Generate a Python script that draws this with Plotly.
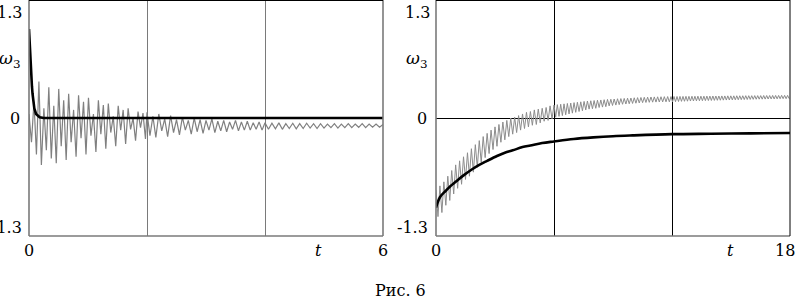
import numpy as np
import plotly.graph_objects as go

# ---------------- data ----------------
# Left panel, black curve
left_black_t = [0, 0.01, 0.02, 0.03, 0.04, 0.05, 0.06, 0.075, 0.09, 0.12, 0.15, 0.18, 0.25, 1, 2, 3, 4, 5, 6]
left_black_v = [1.1, 0.92, 0.75, 0.6, 0.5, 0.39, 0.3, 0.2, 0.12, 0.05, 0.025, 0.01, 0, 0, 0, 0, 0, 0, 0]

# Left panel, grey curve: extrema, three stretches with their own sampling step
left_gray_a_step = 0.042
left_gray_a = [0.05, -0.30, 0.20, -0.45, 0.45, -0.58, 0.12, -0.40, 0.38, -0.50,
               0.15, -0.56, 0.36, -0.35, 0.22, -0.52, 0.30, -0.30, 0.10, -0.48,
               0.28, -0.25, 0.20, -0.45, 0.25, -0.22, 0.05, -0.42, 0.22, -0.20,
               0.16, -0.38, 0.18, -0.18, 0.02, -0.35, 0.15, -0.15, 0.10, -0.32,
               0.12, -0.14, 0.0, -0.28, 0.08, -0.12, 0.06, -0.26]
left_gray_b_start, left_gray_b_step = 2.0, 0.05
left_gray_b = [0.07, -0.22, 0.02, -0.24, 0.05, -0.16, -0.01, -0.23, 0.03, -0.18,
               -0.02, -0.21, 0.01, -0.15, -0.03, -0.20, 0.0, -0.17, -0.02, -0.19,
               -0.03, -0.15, -0.01, -0.18, -0.04, -0.16, -0.03, -0.17, -0.05, -0.14,
               -0.03, -0.16, -0.05, -0.15, -0.04, -0.15, -0.06, -0.14, -0.05, -0.15]
left_gray_c_start, left_gray_c_step = 4.0, 2.0 / 34
left_gray_c = [-0.06, -0.14, -0.065, -0.135, -0.06, -0.14, -0.07, -0.13, -0.065, -0.135,
               -0.07, -0.13, -0.065, -0.125, -0.07, -0.13, -0.07, -0.125, -0.075, -0.12,
               -0.07, -0.125, -0.075, -0.12, -0.07, -0.12, -0.075, -0.115, -0.07, -0.12,
               -0.075, -0.115, -0.075, -0.115, -0.08]

# Right panel, black curve
right_black_t = [0, 0.2, 0.5, 0.7, 1.0, 1.4, 1.8, 2.2, 2.6, 3.1, 3.5, 3.9, 4.4, 4.8, 5.4, 6,
                 7, 8, 9, 10, 12, 14, 16, 18]
right_black_v = [-1.11, -0.98, -0.9, -0.85, -0.79, -0.71, -0.64, -0.58, -0.53, -0.47, -0.43,
                 -0.40, -0.36, -0.34, -0.31, -0.29, -0.26, -0.24, -0.225, -0.215, -0.20,
                 -0.195, -0.19, -0.185]

# Right panel, grey curve
right_gray_1_step = 0.1
right_gray_1 = [-0.89, -1.22, -0.84, -1.17, -0.79, -1.08, -0.72, -1.02, -0.65, -0.94,
                -0.58, -0.87, -0.53, -0.82, -0.48, -0.76, -0.43, -0.72, -0.38, -0.67,
                -0.33, -0.61, -0.28, -0.55, -0.23, -0.49, -0.19, -0.44, -0.15, -0.39,
                -0.11, -0.35, -0.08, -0.30, -0.05, -0.27, -0.03, -0.23, 0.0, -0.20,
                0.01, -0.18, 0.03, -0.15, 0.05, -0.13, 0.07, -0.11, 0.08, -0.09,
                0.10, -0.08, 0.11, -0.06, 0.12, -0.04, 0.13, -0.03, 0.15, -0.01]
right_gray_2_start, right_gray_2_step = 6.0, 0.085
right_gray_2_hi = [0.16, 0.165, 0.17, 0.175, 0.18, 0.185, 0.19, 0.195, 0.20, 0.205, 0.21, 0.213,
                   0.216, 0.22, 0.223, 0.226, 0.23, 0.232, 0.235, 0.238, 0.24, 0.242, 0.245,
                   0.247, 0.25, 0.252, 0.254, 0.256, 0.258, 0.26, 0.261, 0.262, 0.263, 0.264, 0.265]
right_gray_2_lo = [0.01, 0.02, 0.03, 0.04, 0.05, 0.06, 0.07, 0.08, 0.09, 0.10, 0.11, 0.115,
                   0.12, 0.13, 0.135, 0.14, 0.15, 0.155, 0.16, 0.165, 0.17, 0.173, 0.176,
                   0.18, 0.183, 0.186, 0.19, 0.192, 0.194, 0.196, 0.197, 0.198, 0.199, 0.20, 0.20]
right_gray_3_start, right_gray_3_step = 11.95, 0.076
right_gray_3_hi = [0.265, 0.266, 0.266, 0.267, 0.267, 0.268, 0.268, 0.269, 0.269, 0.27, 0.27,
                   0.27, 0.271, 0.271, 0.272, 0.272, 0.272, 0.273, 0.273, 0.274, 0.274, 0.274,
                   0.275, 0.275, 0.275, 0.276, 0.276, 0.276, 0.277, 0.277, 0.277, 0.278, 0.278,
                   0.278, 0.279, 0.279, 0.279, 0.28, 0.28, 0.28]
right_gray_3_lo = [0.20, 0.202, 0.204, 0.206, 0.207, 0.208, 0.21, 0.211, 0.212, 0.213, 0.214,
                   0.215, 0.216, 0.217, 0.218, 0.219, 0.22, 0.221, 0.222, 0.223, 0.224, 0.225,
                   0.226, 0.227, 0.228, 0.229, 0.23, 0.231, 0.232, 0.233, 0.233, 0.234, 0.235,
                   0.236, 0.236, 0.237, 0.238, 0.239, 0.239, 0.24]

y_tick_labels = ["1.3", "0", "-1.3"]
y_tick_values = [1.3, 0, -1.36]
left_x_labels = ["0", "6"]
right_x_labels = ["0", "18"]
caption = "Рис. 6"

# ---------------- assemble series ----------------
def seq(start, step, vals):
    return [start + i * step for i in range(len(vals))]

def interleave(hi, lo):
    out = []
    for h, l in zip(hi, lo):
        out += [h, l]
    return out

lg_t = seq(0, left_gray_a_step, left_gray_a) + seq(left_gray_b_start, left_gray_b_step, left_gray_b) \
    + seq(left_gray_c_start, left_gray_c_step, left_gray_c)
lg_v = left_gray_a + left_gray_b + left_gray_c

r2 = interleave(right_gray_2_hi, right_gray_2_lo)
r3 = interleave(right_gray_3_hi, right_gray_3_lo)
rg_t = seq(0, right_gray_1_step, right_gray_1) + seq(right_gray_2_start, right_gray_2_step, r2) \
    + seq(right_gray_3_start, right_gray_3_step, r3)
rg_t = [min(t, 18) for t in rg_t]
rg_v = right_gray_1 + r2 + r3

# ---------------- figure ----------------
W, H = 800, 304
ML, MR, MT, MB = 29, 10, 0, 68
PW = W - ML - MR
PH = H - MT - MB
FONT = "DejaVu Serif"
GREY_AX = "#7a7a7a"

fig = go.Figure()
fig.add_trace(go.Scatter(x=lg_t, y=lg_v, mode="lines", line=dict(color="#808080", width=1.2),
                         xaxis="x", yaxis="y", hoverinfo="skip"))
fig.add_trace(go.Scatter(x=left_black_t, y=left_black_v, mode="lines",
                         line=dict(color="black", width=2.6), xaxis="x", yaxis="y"))
fig.add_trace(go.Scatter(x=rg_t, y=rg_v, mode="lines", line=dict(color="#8c8c8c", width=1.0),
                         xaxis="x2", yaxis="y2", hoverinfo="skip"))
fig.add_trace(go.Scatter(x=right_black_t, y=right_black_v, mode="lines", line_shape="spline",
                         line=dict(color="black", width=2.6), xaxis="x2", yaxis="y2"))

dom1 = [0, 354 / PW]
dom2 = [(436 - ML) / PW, 1]
yr = [-1.46, 1.46]
common_y = dict(range=yr, showgrid=False, showticklabels=False, ticks="", showline=False, fixedrange=True)

fig.update_layout(
    width=W, height=H, margin=dict(l=ML, r=MR, t=MT, b=MB, autoexpand=False),
    paper_bgcolor="white", plot_bgcolor="white", showlegend=False,
    font=dict(family=FONT),
    xaxis=dict(domain=dom1, range=[0, 6], tickvals=[2, 4], showgrid=True, gridcolor=GREY_AX,
               gridwidth=1.4, showticklabels=False, ticks="", zeroline=False, showline=False),
    yaxis=dict(domain=[0, 1], zeroline=False, **common_y),
    xaxis2=dict(domain=dom2, range=[0, 18], tickvals=[6, 12], showgrid=True, gridcolor="black",
                gridwidth=1, showticklabels=False, ticks="", zeroline=False, showline=False,
                anchor="y2"),
    yaxis2=dict(domain=[0, 1], anchor="x2", zeroline=True, zerolinecolor="black",
                zerolinewidth=1, **common_y),
)

# frames
def frame(xr, yr_, left, bottom, right, top):
    s = []
    s.append(dict(type="line", xref=xr + " domain", yref=yr_ + " domain", x0=0, x1=0, y0=0, y1=1,
                  line=dict(color=left[0], width=left[1]), layer="above"))
    s.append(dict(type="line", xref=xr + " domain", yref=yr_ + " domain", x0=0, x1=1, y0=0, y1=0,
                  line=dict(color=bottom[0], width=bottom[1]), layer="above"))
    s.append(dict(type="line", xref=xr + " domain", yref=yr_ + " domain", x0=1, x1=1, y0=0, y1=1,
                  line=dict(color=right[0], width=right[1]), layer="above"))
    s.append(dict(type="line", xref=xr + " domain", yref=yr_ + " domain", x0=0, x1=1, y0=1, y1=1,
                  line=dict(color=top[0], width=top[1]), layer="above"))
    return s

shapes = frame("x", "y", (GREY_AX, 1.6), (GREY_AX, 1.6), (GREY_AX, 1.6), ("black", 2))
shapes += frame("x2", "y2", (GREY_AX, 1.6), (GREY_AX, 1.6), ("black", 1), ("black", 2))
fig.update_layout(shapes=shapes)

ann = []
f = dict(family=FONT, size=16, color="black")
for xa, ya, shifts in (("x", "y", (-5, -7, -5)), ("x2", "y2", (-4, -7, -6))):
    for lab, val, sh in zip(y_tick_labels, y_tick_values, shifts):
        ann.append(dict(text=lab, x=0, y=val, xref=xa, yref=ya, xanchor="right", yanchor="middle",
                        xshift=sh, showarrow=False, font=f))
    ann.append(dict(text="<i>ω</i><sub>3</sub>", x=0, y=0.72, xref=xa, yref=ya, xanchor="right",
                    yanchor="middle", xshift=-7, showarrow=False, font=dict(family=FONT, size=17, color="black")))

yb = (PH - 250) / PH   # paper y of the bottom labels (pixel row 250)
for lab, xv in zip(left_x_labels, [0, 6]):
    ann.append(dict(text=lab, x=xv, y=yb, xref="x", yref="paper", xanchor="center", yanchor="middle",
                    showarrow=False, font=f))
ann.append(dict(text="<i>t</i>", x=4.9, y=yb, xref="x", yref="paper", xanchor="center",
                yanchor="middle", showarrow=False, font=f))
for lab, xv, sh in zip(right_x_labels, [0, 18], [0, -5]):
    ann.append(dict(text=lab, x=xv, y=yb, xref="x2", yref="paper", xanchor="center",
                    yanchor="middle", xshift=sh, showarrow=False, font=f))
ann.append(dict(text="<i>t</i>", x=14.95, y=yb, xref="x2", yref="paper", xanchor="center",
                yanchor="middle", showarrow=False, font=f))
ann.append(dict(text=caption, x=(400 - ML) / PW, y=(PH - 290) / PH, xref="paper", yref="paper",
                xanchor="center", yanchor="middle", showarrow=False, font=f))
fig.update_layout(annotations=ann)

fig.write_html("out.html", config={"displayModeBar": False},
               post_script="document.body.style.margin='0';document.body.style.overflow='hidden';")
